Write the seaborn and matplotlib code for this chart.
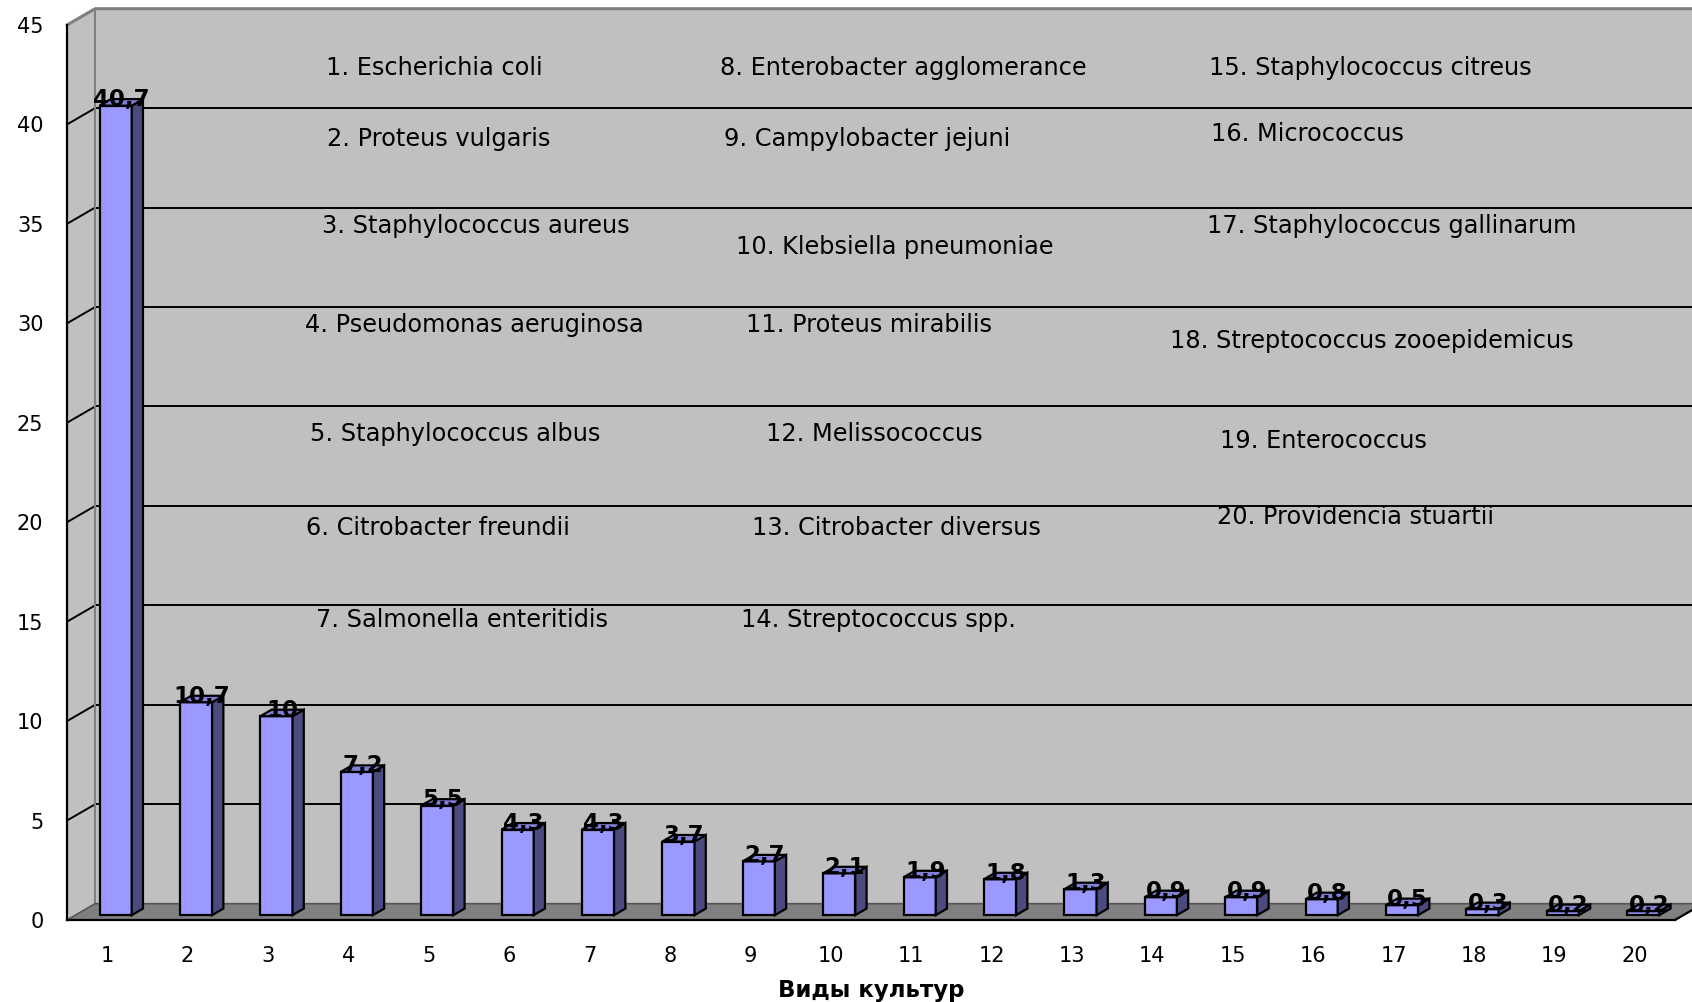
import numpy as np
import pandas as pd
import matplotlib
matplotlib.use("Agg")
import matplotlib.pyplot as plt
from matplotlib.patches import Polygon, Rectangle
import seaborn as sns

# ---- data -------------------------------------------------------------
categories = [str(i) for i in range(1, 21)]
shares = [40.7, 10.7, 10, 7.2, 5.5, 4.3, 4.3, 3.7, 2.7, 2.1,
          1.9, 1.8, 1.3, 0.9, 0.9, 0.8, 0.5, 0.3, 0.2, 0.2]
species = [
    "1. Escherichia coli", "2. Proteus vulgaris", "3. Staphylococcus aureus",
    "4. Pseudomonas aeruginosa", "5. Staphylococcus albus",
    "6. Citrobacter freundii", "7. Salmonella enteritidis",
    "8. Enterobacter agglomerance", "9. Campylobacter jejuni",
    "10. Klebsiella pneumoniae", "11. Proteus mirabilis", "12. Melissococcus",
    "13. Citrobacter diversus", "14. Streptococcus spp.",
    "15. Staphylococcus citreus", "16. Micrococcus",
    "17. Staphylococcus gallinarum", "18. Streptococcus zooepidemicus",
    "19. Enterococcus", "20. Providencia stuartii",
]
y_ticks = [0, 5, 10, 15, 20, 25, 30, 35, 40, 45]
x_title = "Виды культур"

# ---- layout (pixels of a 1692x1002 canvas) -----------------------------
W, H = 1692, 1002
species_xy = [
    (326, 68), (327, 139), (322, 226), (305, 325), (310, 434), (306, 528), (316, 620),
    (720, 68), (724, 139), (736, 247), (746, 325), (766, 434), (752, 528), (741, 620),
    (1209, 68), (1211, 134), (1207, 226), (1170, 341), (1220, 441), (1217, 517),
]

FRONT = "#9999ff"
SIDE = "#4b4b80"
TOP = "#8080d8"
WALL = "#c0c0c0"
FLOOR = "#808080"

# pseudo-3D depth, in data units
DX, DY = 0.35, 0.82
F1, F2 = 0.30, 0.70

sns.set_style("white")
plt.rcParams["font.family"] = ["DejaVu Sans"]
plt.rcParams["text.color"] = "black"
plt.rcParams["axes.labelcolor"] = "black"
plt.rcParams["xtick.color"] = "black"
plt.rcParams["ytick.color"] = "black"

fig = plt.figure(figsize=(W / 100, H / 100), dpi=100)
ax = fig.add_axes([67 / W, 1 - 920 / H, (1675 - 67) / W, 895 / H])
ax.patch.set_visible(False)

df = pd.DataFrame({"culture": categories, "share": shares})
sns.barplot(data=df, x="culture", y="share", order=categories, color=FRONT,
            saturation=1, width=0.4, edgecolor="black", linewidth=1.6,
            ax=ax, zorder=5)
bars = list(ax.patches)

ax.set_xlim(-0.5, 19.5)
ax.set_ylim(0, 45)

x0w, x1w = -0.5, 19.5
# walls and floor
ax.add_patch(Rectangle((x0w + DX, DY), 20, 45, facecolor=WALL, edgecolor="none",
                       zorder=0, clip_on=False))
ax.add_patch(Polygon([(x0w, 0), (x0w, 45), (x0w + DX, 45 + DY), (x0w + DX, DY)],
                     closed=True, facecolor=WALL, edgecolor="none", zorder=0,
                     clip_on=False))
ax.add_patch(Polygon([(x0w, 0), (x1w, 0), (x1w + DX, DY), (x0w + DX, DY)],
                     closed=True, facecolor=FLOOR, edgecolor="none", zorder=1,
                     clip_on=False))
for v in y_ticks[1:-1]:
    ax.plot([x0w + DX, x1w + DX], [v + DY, v + DY], color="black", lw=1.4,
            zorder=2, clip_on=False)
    ax.plot([x0w, x0w + DX], [v, v + DY], color="black", lw=1.4, zorder=2,
            clip_on=False)
ax.plot([x0w, x0w + DX, x1w + DX], [45, 45 + DY, 45 + DY], color="#808080",
        lw=2.2, zorder=2, clip_on=False)
ax.plot([x0w + DX, x0w + DX], [DY, 45 + DY], color="#808080", lw=1.5, zorder=2,
        clip_on=False)
ax.plot([x0w, x0w + DX, x1w + DX], [0, DY, DY], color="#555555", lw=1.2,
        zorder=2, clip_on=False)
ax.plot([x1w, x1w + DX], [0, DY], color="black", lw=1.6, zorder=2, clip_on=False)

# bars with side and top faces
dd = (F2 - F1) * DX
dz = (F2 - F1) * DY
for p, v in zip(bars, shares):
    x0 = p.get_x() + F1 * DX
    w = p.get_width()
    h = p.get_height()
    b = F1 * DY
    p.set_x(x0)
    p.set_y(b)
    ax.add_patch(Polygon([(x0 + w, b), (x0 + w, b + h), (x0 + w + dd, b + h + dz),
                          (x0 + w + dd, b + dz)], closed=True, facecolor=SIDE,
                         edgecolor="black", lw=1.6, zorder=5))
    ax.add_patch(Polygon([(x0, b + h), (x0 + w, b + h), (x0 + w + dd, b + h + dz),
                          (x0 + dd, b + h + dz)], closed=True, facecolor=TOP,
                         edgecolor="black", lw=1.6, zorder=5))
    label = f"{v:g}".replace(".", ",")
    ax.text(x0 + w / 2 + dd / 2, b + h + 0.3, label, ha="center", va="center",
            fontsize=16.5, fontweight="bold", color="black", zorder=8)

# axes, ticks
for side in ("top", "right"):
    ax.spines[side].set_visible(False)
for side in ("left", "bottom"):
    ax.spines[side].set_color("black")
    ax.spines[side].set_linewidth(1.6)
    ax.spines[side].set_zorder(6)

ax.set_xticks(np.arange(-0.5, 20, 1))
ax.set_xticklabels([])
ax.set_xticks(range(20), minor=True)
ax.set_xticklabels(categories, minor=True)
ax.tick_params(axis="x", which="major", length=13, width=1.6, direction="out",
               color="black")
ax.tick_params(axis="x", which="minor", length=0, pad=19, labelsize=15,
               labelcolor="black")
ax.set_yticks(y_ticks)
ax.set_yticklabels([str(t) for t in y_ticks])
ax.tick_params(axis="y", length=12, width=1.6, direction="out", pad=5,
               labelsize=15, color="black", labelcolor="black")
ax.set_ylabel("")
ax.set_xlabel(x_title, fontsize=16.5, fontweight="bold", labelpad=9,
              color="black")

for name, (px, py) in zip(species, species_xy):
    fig.text(px / W, 1 - py / H, name, ha="left", va="center", fontsize=17.3,
             color="black")

fig.savefig("out.png", dpi=100, facecolor="white")
